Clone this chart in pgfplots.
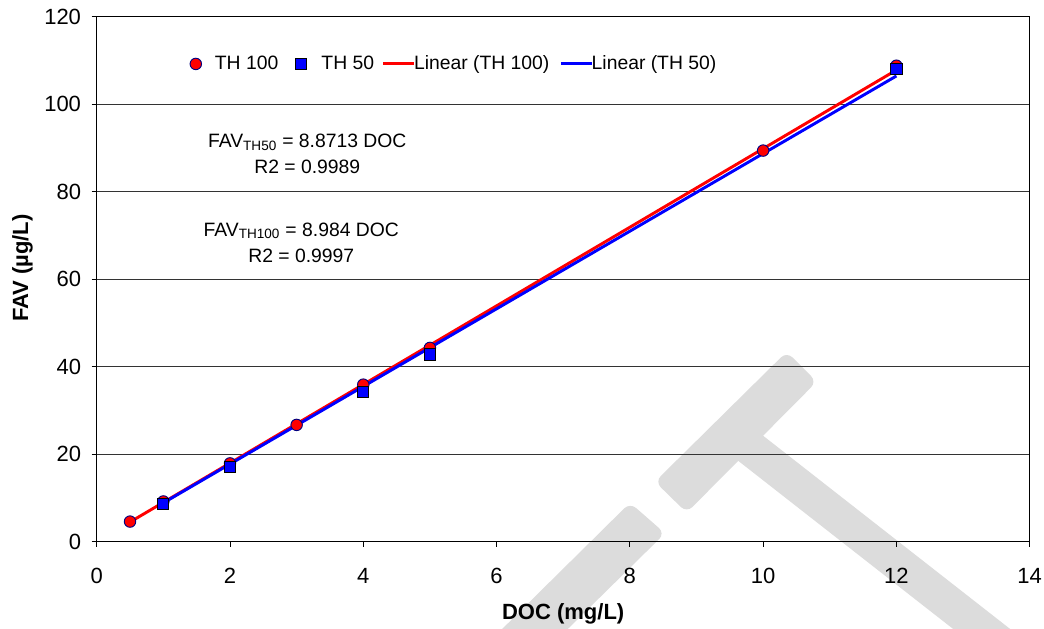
\documentclass[border=0pt]{standalone}
\usepackage{pgfplots}
\pgfplotsset{compat=1.18}
\usepackage{fontspec}
\setmainfont{Liberation Sans}
\definecolor{navyedge}{RGB}{0,0,128}
\definecolor{wmgray}{RGB}{220,220,220}
\pgfplotsset{lineleg/.style={legend image code/.code={\draw[##1] (0pt,0pt) -- (23pt,0pt);}}}
\begin{document}
\begin{tikzpicture}
% watermark, behind the chart
\begin{scope}[x=0.75pt,y=-0.75pt,shift={(-96.7,-541.7)}]
\fill[wmgray,rounded corners=6pt] (655,481.7) -- (786.7,351.7) -- (816.7,381.7) -- (686.7,512.7) -- cycle;
\fill[wmgray,rounded corners=6pt] (630,502.7) -- (665,533.3) -- (523,673) -- (488,643) -- cycle;
\fill[wmgray] (724,449.7) -- (749,424.7) -- (1060,668) -- (1035,693) -- cycle;
\end{scope}
\begin{axis}[at={(0,0)},anchor=south west,
 width=699.75pt,height=393.75pt,scale only axis,
 xmin=0,xmax=14,ymin=0,ymax=120,
 xtick distance=2,ytick distance=20,
 ymajorgrids,grid style={black!80,line width=0.6pt},
 axis line style={black,line width=0.7pt},
 tick align=outside,xtick pos=bottom,ytick pos=left,
 major tick length=3.75pt,tick style={black,line width=0.7pt},
 /pgf/number format/assume math mode=true,
 tick label style={font=\fontsize{16.5}{19}\selectfont},
 xticklabel style={yshift=-12.5pt},
 yticklabel style={xshift=-4.5pt},
 xlabel={\textbf{DOC (mg/L)}},ylabel={\textbf{FAV (µg/L)}},
 label style={font=\fontsize{16.5}{19}\selectfont},
 xlabel style={at={(axis description cs:0.5,-0.138)},anchor=center},
 ylabel style={at={(axis description cs:-0.0795,0.521)},anchor=center},
 legend style={at={(0.0955,0.91)},anchor=west,draw=none,fill=none,
  legend columns=4,font=\fontsize{14.5}{17}\selectfont,
  /tikz/column 1/.style={column sep=8pt},
  /tikz/column 2/.style={column sep=11pt},
  /tikz/column 3/.style={column sep=9pt},
  /tikz/column 4/.style={column sep=3.75pt},
  /tikz/column 5/.style={column sep=-3pt},
  /tikz/column 6/.style={column sep=5.5pt},
  /tikz/column 7/.style={column sep=-3pt}},
 legend cell align=left]
\addplot[only marks,mark=*,mark size=4.3pt,mark options={fill=red,draw=navyedge,line width=0.7pt}]
 coordinates {(0.5,4.6)(1,9.2)(2,17.9)(3,26.7)(4,35.9)(5,44.3)(10,89.4)(12,108.8)};
\addplot[only marks,mark=square*,mark size=4.2pt,mark options={fill=blue,draw=black,line width=0.7pt}]
 coordinates {(1,8.6)(2,17.0)(4,34.2)(5,42.8)(12,108.0)};
\addplot[red,line width=2.2pt,lineleg] coordinates {(0.5,4.492)(12,107.808)};
\addplot[blue,line width=2.2pt,lineleg] coordinates {(1,8.8713)(12,106.4556)};
\legend{TH 100,TH 50,Linear (TH 100),Linear (TH 50)}
\node[align=center,font=\fontsize{14.5}{19.5}\selectfont] at (axis cs:3.16,88.7) {FAV\textsubscript{TH50} = 8.8713 DOC\\R2 = 0.9989};
\node[align=center,font=\fontsize{14.5}{19.5}\selectfont] at (axis cs:3.07,68.4) {FAV\textsubscript{TH100} = 8.984 DOC\\R2 = 0.9997};
\end{axis}
\pgfresetboundingbox
\path[use as bounding box,x=0.75pt,y=-0.75pt,shift={(-96.7,-541.7)}] (0,0) rectangle (1044,628);
\end{tikzpicture}
\end{document}
